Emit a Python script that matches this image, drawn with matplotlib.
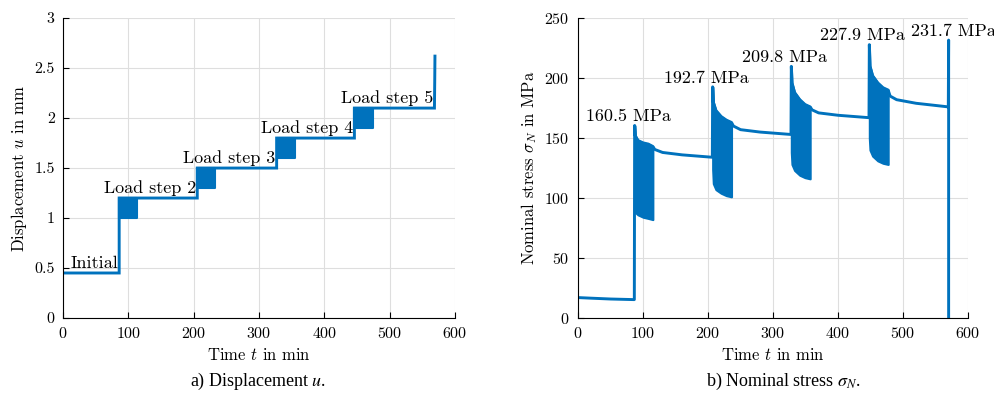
import matplotlib
matplotlib.use("Agg")
import matplotlib.pyplot as plt

plt.rcParams['font.family'] = ['cmr10', 'DejaVu Serif']
plt.rcParams['mathtext.fontset'] = 'cm'
plt.rcParams['axes.unicode_minus'] = False
plt.rcParams['axes.formatter.use_mathtext'] = True

blue = "#0072BD"

# displacement u (mm) over time (min), stepwise line
t_u = [0, 86, 86, 205.5, 205.5, 327, 327, 446, 446, 568.5, 569, 569.3]
u = [0.45, 0.45, 1.2, 1.2, 1.5, 1.5, 1.8, 1.8, 2.1, 2.1, 2.4, 2.62]

# cyclic blocks in displacement
u_blk_start = [86, 205.5, 327, 446]
u_blk_end = [114, 233, 355, 474]
u_blk_top = [1.2, 1.5, 1.8, 2.1]
u_blk_bot = [1.0, 1.3, 1.6, 1.9]

u_labels = ["Initial", "Load step 2", "Load step 3", "Load step 4", "Load step 5"]
u_label_x = [84, 203.5, 325, 444, 567]
u_label_y = [0.45, 1.2, 1.5, 1.8, 2.1]

# nominal stress (MPa) main line
t_sig = [0, 20, 50, 86.5,
         87, 88, 92, 100, 108, 115,
         118, 130, 160, 206.5,
         207, 208, 212, 220, 228, 236,
         239, 250, 280, 327.5,
         328, 329, 333, 341, 349, 357,
         360, 370, 400, 447.5,
         448, 449, 453, 461, 469, 477,
         480, 490, 520, 569.5,
         570, 570]
sig = [17, 16.5, 15.8, 15.3,
       160.5, 152, 148, 146, 145, 143,
       140.5, 138, 136, 134,
       192.7, 180, 173, 168, 165, 163,
       160, 157, 155, 153,
       209.8, 196, 188, 182, 178, 176,
       173.5, 171, 169, 167,
       227.9, 210, 202, 196, 192, 190,
       185, 182, 179, 176,
       231.7, -5]

# envelopes of the cyclic blocks in stress
blk_t = [[87, 88, 92, 100, 108, 115],
         [207, 208, 212, 220, 228, 236],
         [328, 329, 333, 341, 349, 357],
         [448, 449, 453, 461, 469, 477]]
blk_up = [[160.5, 152, 148, 146, 145, 143],
          [192.7, 180, 173, 168, 165, 163],
          [209.8, 196, 188, 182, 178, 176],
          [227.9, 210, 202, 196, 192, 190]]
blk_lo = [[92, 88, 86, 84, 83, 82],
          [124, 112, 107, 104, 102, 101],
          [138, 128, 123, 119, 117, 116],
          [150, 140, 135, 131, 129, 128]]

peak_t = [87, 207, 328, 448, 570]
peak_val = [160.5, 192.7, 209.8, 227.9, 231.7]
peak_label_dx = [-10, -10, -10, -10, 7]

fig = plt.figure(figsize=(9.95, 4.03), dpi=100)
ax1 = fig.add_axes([0.0633, 0.211, 0.394, 0.744])
ax2 = fig.add_axes([0.581, 0.211, 0.392, 0.744])


def style(ax):
    ax.grid(True, color="#dedede", linewidth=0.8)
    ax.set_axisbelow(True)
    ax.spines['top'].set_visible(False)
    ax.spines['right'].set_visible(False)
    ax.tick_params(direction='in', length=4, labelsize=11.5, pad=6)
    ax.set_xlim(0, 600)
    ax.set_xticks(range(0, 601, 100))


# left: displacement
for s, e, top, bot in zip(u_blk_start, u_blk_end, u_blk_top, u_blk_bot):
    ax1.fill_between([s, e], [bot, bot], [top, top], color=blue, linewidth=1.5, edgecolor=blue)
ax1.plot(t_u, u, color=blue, linewidth=2.1, solid_joinstyle='miter')
for lab, x, y in zip(u_labels, u_label_x, u_label_y):
    ax1.text(x, y + 0.02, lab, ha='right', va='bottom', fontsize=13)
style(ax1)
ax1.set_ylim(0, 3)
ax1.set_yticks([0, 0.5, 1, 1.5, 2, 2.5, 3])
ax1.set_yticklabels(["0", "0.5", "1", "1.5", "2", "2.5", "3"])
ax1.set_xlabel("Time $t$ in min", fontsize=12)
ax1.set_ylabel("Displacement $u$ in mm", fontsize=12)

# right: nominal stress
for bt, up, lo in zip(blk_t, blk_up, blk_lo):
    ax2.fill_between(bt, lo, up, color=blue, linewidth=1.5, edgecolor=blue)
ax2.plot(t_sig, sig, color=blue, linewidth=2.1)
for x, v, dx in zip(peak_t, peak_val, peak_label_dx):
    ax2.text(x + dx, v + 1, f"{v:.1f} MPa", ha='center', va='bottom', fontsize=13, clip_on=False)
style(ax2)
ax2.set_ylim(0, 250)
ax2.set_yticks(range(0, 251, 50))
ax2.set_xlabel("Time $t$ in min", fontsize=12)
ax2.set_ylabel("Nominal stress $\\sigma_N$ in MPa", fontsize=12)

fig.text(0.259, 0.054, "a) Displacement $u$.", ha='center', va='center', fontsize=13,
         family='Liberation Serif', math_fontfamily='stix')
fig.text(0.787, 0.054, "b) Nominal stress $\\sigma_N$.", ha='center', va='center', fontsize=13,
         family='Liberation Serif', math_fontfamily='stix')

fig.savefig("out.png", dpi=100)
